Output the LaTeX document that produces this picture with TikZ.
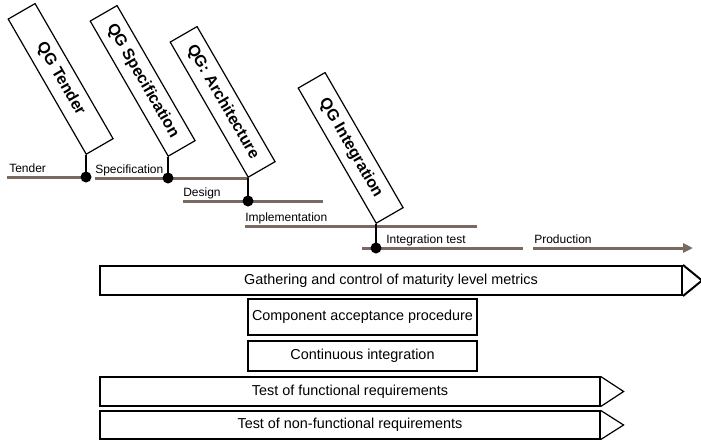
\documentclass[tikz,border=0pt]{standalone}
\usepackage{fontspec}
\setmainfont{Liberation Sans}
\usetikzlibrary{arrows.meta,positioning,calc}
\definecolor{phasebrown}{RGB}{120, 106, 96}

\begin{document}
\begin{tikzpicture}[x=0.75pt, y=-0.75pt,
  every node/.style={font=\fontsize{9}{11}\selectfont},
  qgbox/.style={draw, fill=white, line width=0.9pt, rotate=-60, anchor=south east,
                minimum width=117pt, minimum height=23.25pt, inner sep=0pt,
                font=\fontsize{12}{14}\selectfont\bfseries},
  phaseline/.style={phasebrown, line width=2.25pt},
  phaselabel/.style={anchor=base west, inner sep=0pt},
  stem/.style={line width=1.5pt},
  dot/.style={circle, fill, inner sep=0pt, minimum size=8.25pt},
  bar/.style={draw, line width=0.9pt, inner sep=0pt, font=\fontsize{10.8}{13}\selectfont},
]
\useasboundingbox (0,0) rectangle (701,443);

% Phase lines
\draw[phaseline] (7,177) -- (86,177);
\draw[phaseline] (95,178) -- (248,178);
\draw[phaseline] (183,201) -- (323,201);
\draw[phaseline] (245,226) -- (477,226);
\draw[phaseline] (362,248) -- (523,248);
\draw[phaseline, -{Triangle[length=7.5pt, width=6.75pt]}] (533,248) -- (693,248);

% Phase labels
\node[phaselabel] (ltender) at (9,172.5)   {Tender};
\node[phaselabel] (lspec)   at (95,173.5)  {Specification};
\node[phaselabel] (ldesign) at (183,196.5) {Design};
\node[phaselabel] (limpl)   at (245,221.5) {Implementation};
\node[phaselabel] (linteg)  at (386,243.5) {Integration test};
\node[phaselabel] (lprod)   at (534,243.5) {Production};

% Quality gates
\node[qgbox] (qgtender) at (86,155)  {QG Tender};
\node[qgbox] (qgspec)   at (168,157) {QG Specification};
\node[qgbox] (qgarch)   at (248,178) {QG: Architecture};
\node[qgbox] (qginteg)  at (376,224) {QG Integration};

\node[dot] (dtender) at (86,177)  {};
\node[dot] (dspec)   at (168,178) {};
\node[dot] (darch)   at (248,201) {};
\node[dot] (dinteg)  at (376,248) {};

\draw[stem] (qgtender.south east) -- (dtender.center);
\draw[stem] (qgspec.south east) -- (dspec.center);
\draw[stem] (qgarch.south east) -- (darch.center);
\draw[stem] (qginteg.south east) -- (dinteg.center);

% Activities
\node[bar, line width=1.5pt, minimum width=436.5pt, minimum height=21.75pt] (gather) at (391,280.5)
  {Gathering and control of maturity level metrics};
\node[bar, minimum width=171.75pt, minimum height=27pt] (compacc) at (362.5,317)
  {Component acceptance procedure};
\node[bar, minimum width=171.75pt, minimum height=22.5pt] (contint) at (362.5,356)
  {Continuous integration};
\node[bar, minimum width=375pt, minimum height=21.75pt] (testfun) at (350,391.5)
  {Test of functional requirements};
\node[bar, minimum width=375pt, minimum height=21pt] (testnf) at (350,425)
  {Test of non-functional requirements};

\draw[line width=1.5pt] (gather.north east) -- ($(gather.east)+(19,0)$) -- (gather.south east);
\draw[line width=0.9pt] (testfun.north east) -- ($(testfun.east)+(23,0)$) -- (testfun.south east);
\draw[line width=0.9pt] (testnf.north east) -- ($(testnf.east)+(23,0)$) -- (testnf.south east);

\end{tikzpicture}
\end{document}
